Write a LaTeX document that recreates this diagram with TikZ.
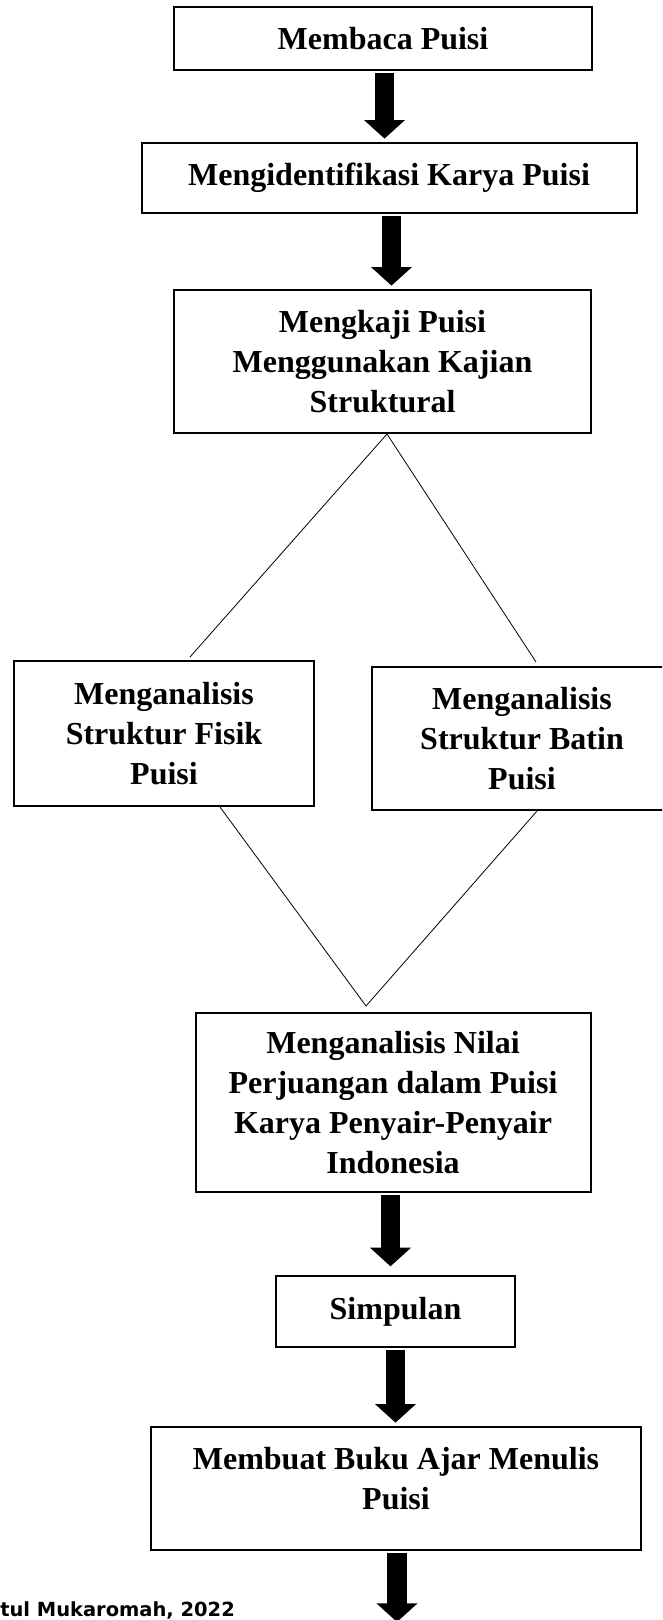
\documentclass[tikz,border=0pt]{standalone}
\usepackage{fontspec}
\setmainfont{Liberation Serif}
\newfontfamily\creditfont{DejaVu Sans}
\usetikzlibrary{arrows.meta,calc}
\begin{document}
\begin{tikzpicture}[x=0.75pt,y=-0.75pt,
	stepbox/.style={draw,line width=1.5pt,inner sep=0pt,align=center,
		font=\bfseries\fontsize{24}{30}\selectfont},
	bigarrow/.style={line width=14.6pt,-{Triangle[width=30pt,length=14pt]},
		shorten <=1.5pt,shorten >=2.5pt},
	thinline/.style={line width=0.6pt}]
	\clip (0,0) rectangle (662,1620);
	\path
	(383,38.5) node[stepbox,minimum width=313.5pt,minimum height=47.25pt] (baca) {Membaca Puisi}
	(389,178) node[stepbox,minimum width=371.25pt,minimum height=52.5pt] (identifikasi) {Mengidentifikasi Karya Puisi}
	(382.5,361.5) node[stepbox,minimum width=312.75pt,minimum height=107.25pt] (kaji) {Mengkaji Puisi\\Menggunakan Kajian\\Struktural}
	(164,733.5) node[stepbox,minimum width=225pt,minimum height=108.75pt] (fisik) {Menganalisis\\Struktur Fisik\\Puisi}
	(522,738.5) node[stepbox,minimum width=225pt,minimum height=107.25pt] (batin) {Menganalisis\\Struktur Batin\\Puisi}
	(393,1102.5) node[stepbox,minimum width=296.25pt,minimum height=134.25pt] (nilai) {Menganalisis Nilai\\Perjuangan dalam Puisi\\Karya Penyair-Penyair\\Indonesia}
	(395.5,1311.5) node[stepbox,minimum width=179.25pt,minimum height=53.25pt] (simpulan) {Simpulan}
	(396,1488.5) node[stepbox,minimum width=367.5pt,minimum height=92.25pt] (bukuajar) {Membuat Buku Ajar Menulis\\Puisi\\[-15pt]\mbox{}}
	(0,1616) node[anchor=base west,inner sep=0pt,font=\creditfont\bfseries\fontsize{14.6}{16}\selectfont] (sumber) {tul Mukaromah, 2022}
	;
	\coordinate (p1) at ($(baca.south)+(1.5,0)$);
	\coordinate (p2) at ($(identifikasi.south)+(2.5,0)$);
	\coordinate (p3) at ($(nilai.south)+(-2.5,0)$);
	\coordinate (p5) at ($(bukuajar.south)+(1,0)$);
	\coordinate (akhir) at ($(p5)+(0,71)$);
	% panah tebal
	\draw[bigarrow] (p1) -- (p1 |- identifikasi.north);
	\draw[bigarrow] (p2) -- (p2 |- kaji.north);
	\draw[bigarrow,shorten >=6.5pt] (p3) -- (p3 |- simpulan.north);
	\draw[bigarrow] (simpulan.south) -- (simpulan.south |- bukuajar.north);
	\draw[bigarrow,shorten >=0pt] (p5) -- (akhir);
	% garis tipis
	\draw[thinline]
	($(fisik.north)+(26,-3)$) -- ($(kaji.south)+(4.5,0)$) -- ($(batin.north)+(14,-4)$)
	($(fisik.south)+(56,0)$) -- ($(nilai.north)+(-27,-6)$) -- ($(batin.south)+(15,0)$);
\end{tikzpicture}
\end{document}
